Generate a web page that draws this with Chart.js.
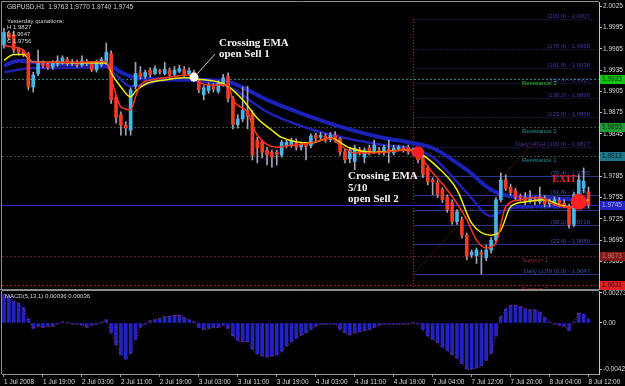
<!DOCTYPE html>
<html>
<head>
<meta charset="utf-8" />
<title>GBPUSD H1</title>
<script src="https://cdn.jsdelivr.net/npm/chart.js@4.4.0/dist/chart.umd.min.js"></script>
<style>
    body { margin: 0; background: #000; }
    #wrap { position: relative; width: 625px; height: 386px; background: #000; overflow: hidden; }
    #priceChart { position: absolute; left: 0; top: 0; }
    #macdChart { position: absolute; left: 0; top: 290px; }
</style>
</head>
<body>
<div id="wrap">
    <canvas id="priceChart" width="625" height="290"></canvas>
    <canvas id="macdChart" width="625" height="96"></canvas>
</div>
<script>
// H1 candles, bar 0 = 1 Jul 11:00, last bar = 8 Jul 12:00
const openP = [
    1.9970, 1.9987, 1.9985, 1.9965, 1.9961, 1.9958, 1.9911, 1.9930, 1.9944, 1.9943,
    1.9939, 1.9943, 1.9945, 1.9950, 1.9944, 1.9946, 1.9942, 1.9947, 1.9943, 1.9935,
    1.9943, 1.9946, 1.9958, 1.9896, 1.9872, 1.9857, 1.9850, 1.9912, 1.9931, 1.9926,
    1.9935, 1.9930, 1.9934, 1.9930, 1.9935, 1.9929, 1.9933, 1.9936, 1.9930, 1.9932,
    1.9920, 1.9900, 1.9906, 1.9913, 1.9905, 1.9915, 1.9926, 1.9895, 1.9858, 1.9866,
    1.9878, 1.9874, 1.9836, 1.9833, 1.9822, 1.9819, 1.9819, 1.9815, 1.9829, 1.9829,
    1.9833, 1.9826, 1.9830, 1.9828, 1.9843, 1.9840, 1.9842, 1.9837, 1.9843, 1.9838,
    1.9820, 1.9810, 1.9806, 1.9823, 1.9812, 1.9825, 1.9821, 1.9822, 1.9819, 1.9823,
    1.9818, 1.9824, 1.9825, 1.9826, 1.9821, 1.9822, 1.9811, 1.9797, 1.9780, 1.9776,
    1.9766, 1.9756, 1.9748, 1.9721, 1.9724, 1.9702, 1.9674, 1.9673, 1.9677, 1.9670,
    1.9681, 1.9695, 1.9752, 1.9780, 1.9770, 1.9765, 1.9757, 1.9755, 1.9750, 1.9752,
    1.9749, 1.9754, 1.9746, 1.9748, 1.9751, 1.9747, 1.9743, 1.9717, 1.9752, 1.9768,
    1.9763
];
const highP = [
    1.9994, 1.9990, 1.9990, 1.9967, 1.9963, 1.9960, 1.9932, 1.9963, 1.9948, 1.9946,
    1.9948, 1.9955, 1.9955, 1.9953, 1.9950, 1.9949, 1.9955, 1.9950, 1.9946, 1.9949,
    1.9953, 1.9973, 1.9962, 1.9899, 1.9876, 1.9862, 1.9910, 1.9946, 1.9940, 1.9935,
    1.9938, 1.9941, 1.9936, 1.9946, 1.9938, 1.9940, 1.9942, 1.9940, 1.9938, 1.9935,
    1.9922, 1.9913, 1.9917, 1.9916, 1.9920, 1.9929, 1.9931, 1.9898, 1.9872, 1.9911,
    1.9912, 1.9878, 1.9840, 1.9836, 1.9826, 1.9822, 1.9822, 1.9836, 1.9836, 1.9839,
    1.9838, 1.9833, 1.9833, 1.9845, 1.9846, 1.9847, 1.9845, 1.9847, 1.9848, 1.9840,
    1.9823, 1.9826, 1.9829, 1.9826, 1.9825, 1.9829, 1.9836, 1.9826, 1.9829, 1.9836,
    1.9829, 1.9829, 1.9828, 1.9829, 1.9825, 1.9825, 1.9814, 1.9800, 1.9783, 1.9779,
    1.9769, 1.9759, 1.9752, 1.9738, 1.9728, 1.9705, 1.9681, 1.9684, 1.9681, 1.9688,
    1.9699, 1.9755, 1.9790, 1.9787, 1.9774, 1.9768, 1.9760, 1.9762, 1.9765, 1.9756,
    1.9770, 1.9758, 1.9753, 1.9756, 1.9755, 1.9752, 1.9746, 1.9762, 1.9787, 1.9797,
    1.9770
];
const lowP = [
    1.9966, 1.9977, 1.9959, 1.9956, 1.9954, 1.9907, 1.9904, 1.9927, 1.9938, 1.9936,
    1.9936, 1.9940, 1.9943, 1.9941, 1.9941, 1.9939, 1.9940, 1.9941, 1.9933, 1.9932,
    1.9940, 1.9943, 1.9888, 1.9860, 1.9843, 1.9843, 1.9843, 1.9908, 1.9922, 1.9923,
    1.9925, 1.9928, 1.9929, 1.9928, 1.9925, 1.9927, 1.9931, 1.9926, 1.9928, 1.9919,
    1.9903, 1.9893, 1.9902, 1.9904, 1.9902, 1.9912, 1.9890, 1.9852, 1.9853, 1.9862,
    1.9852, 1.9808, 1.9804, 1.9811, 1.9801, 1.9798, 1.9801, 1.9812, 1.9825, 1.9826,
    1.9822, 1.9822, 1.9808, 1.9825, 1.9835, 1.9836, 1.9833, 1.9834, 1.9833, 1.9815,
    1.9804, 1.9804, 1.9794, 1.9815, 1.9804, 1.9815, 1.9818, 1.9816, 1.9815, 1.9804,
    1.9815, 1.9821, 1.9819, 1.9816, 1.9815, 1.9804, 1.9783, 1.9773, 1.9759, 1.9755,
    1.9748, 1.9734, 1.9717, 1.9717, 1.9698, 1.9667, 1.9670, 1.9662, 1.9647, 1.9666,
    1.9677, 1.9691, 1.9749, 1.9765, 1.9758, 1.9752, 1.9750, 1.9745, 1.9747, 1.9745,
    1.9746, 1.9742, 1.9742, 1.9744, 1.9742, 1.9741, 1.9712, 1.9714, 1.9749, 1.9762,
    1.9740
];
const closeP = [
    1.9988, 1.9980, 1.9963, 1.9960, 1.9957, 1.9911, 1.9928, 1.9945, 1.9941, 1.9938,
    1.9944, 1.9948, 1.9952, 1.9944, 1.9947, 1.9942, 1.9948, 1.9944, 1.9935, 1.9946,
    1.9950, 1.9960, 1.9893, 1.9868, 1.9857, 1.9853, 1.9907, 1.9930, 1.9926, 1.9932,
    1.9929, 1.9937, 1.9932, 1.9936, 1.9928, 1.9935, 1.9937, 1.9929, 1.9934, 1.9922,
    1.9907, 1.9910, 1.9914, 1.9908, 1.9917, 1.9924, 1.9895, 1.9858, 1.9866, 1.9878,
    1.9870, 1.9815, 1.9825, 1.9819, 1.9815, 1.9812, 1.9816, 1.9833, 1.9833, 1.9836,
    1.9826, 1.9830, 1.9827, 1.9842, 1.9839, 1.9843, 1.9836, 1.9843, 1.9836, 1.9819,
    1.9808, 1.9822, 1.9825, 1.9819, 1.9822, 1.9818, 1.9829, 1.9819, 1.9826, 1.9821,
    1.9825, 1.9826, 1.9822, 1.9819, 1.9818, 1.9808, 1.9787, 1.9777, 1.9777, 1.9759,
    1.9752, 1.9738, 1.9721, 1.9735, 1.9702, 1.9672, 1.9678, 1.9681, 1.9675, 1.9681,
    1.9695, 1.9752, 1.9780, 1.9768, 1.9762, 1.9756, 1.9755, 1.9749, 1.9754, 1.9749,
    1.9755, 1.9746, 1.9749, 1.9752, 1.9747, 1.9744, 1.9717, 1.9759, 1.9780, 1.9778,
    1.9745
];

// moving averages as [bar, price]
const emaRed = [
    [0, 1.9970], [2, 1.9967], [4, 1.9963], [5, 1.9952], [6, 1.9946], [8, 1.9946], [13, 1.9946],
    [21, 1.9947], [22, 1.9924], [23, 1.9900], [24, 1.9883], [26, 1.9879], [27, 1.9897], [28, 1.9914],
    [31, 1.9922], [35, 1.9926], [38, 1.9928], [40, 1.9918], [42, 1.9914], [46, 1.9914], [47, 1.9893],
    [49, 1.9881], [50, 1.9876], [51, 1.9857], [52, 1.9843], [56, 1.9826], [59, 1.9829], [63, 1.9832],
    [67, 1.9839], [69, 1.9829], [72, 1.9818], [76, 1.9818], [83, 1.9822], [85, 1.9816], [88, 1.9790],
    [91, 1.9766], [95, 1.9724], [97, 1.9695], [99, 1.9684], [101, 1.9691], [103, 1.9742], [106, 1.9752],
    [110, 1.9755], [113, 1.9745], [117, 1.9741], [120, 1.9749]
];
const emaYellow = [
    [0, 1.9949], [2, 1.9957], [4, 1.9957], [6, 1.9946], [21, 1.9945], [22, 1.9931], [24, 1.9911],
    [26, 1.9897], [27, 1.9905], [29, 1.9915], [33, 1.9921], [37, 1.9924], [40, 1.9922], [44, 1.9918],
    [46, 1.9912], [49, 1.9893], [52, 1.9867], [55, 1.9850], [57, 1.9840], [63, 1.9832], [67, 1.9839],
    [71, 1.9825], [76, 1.9819], [83, 1.9822], [85, 1.9819], [89, 1.9798], [93, 1.9766], [96, 1.9719],
    [100, 1.9702], [102, 1.9709], [104, 1.9742], [107, 1.9749], [111, 1.9752], [114, 1.9745],
    [117, 1.9741], [120, 1.9752]
];
const emaBlueSlow = [
    [0, 1.9941], [3, 1.9948], [6, 1.9946], [11, 1.9943], [21, 1.9943], [24, 1.9932], [27, 1.9924],
    [32, 1.9922], [40, 1.9921], [46, 1.9918], [54, 1.9893], [61, 1.9874], [70, 1.9853], [78, 1.9839],
    [83, 1.9833], [88, 1.9825], [95, 1.9794], [100, 1.9766], [104, 1.9757], [110, 1.9755],
    [115, 1.9753], [120, 1.9752]
];
const emaBlueFast = [
    [0, 1.9932], [6, 1.9938], [11, 1.9938], [21, 1.9939], [23, 1.9928], [26, 1.9912], [29, 1.9915],
    [33, 1.9921], [40, 1.9919], [46, 1.9912], [54, 1.9876], [61, 1.9856], [70, 1.9839], [78, 1.9829],
    [83, 1.9825], [88, 1.9812], [95, 1.9762], [100, 1.9729], [103, 1.9738], [107, 1.9742],
    [114, 1.9742], [120, 1.9746]
];

// MACD(5,13,1) histogram, one value per bar
const macdVals = [
    0.0026, 0.0024, 0.0020, 0.0018, 0.0014, 0.0004, -0.0005, -0.0003, -0.0004, -0.0003,
    -0.0003, -0.0001, 0.0001, 0.00002, -0.0001, -0.0001, -0.0002, -0.0004, -0.0002, -0.0001,
    0.00002, 0.0003, -0.0009, -0.0020, -0.0029, -0.0033, -0.0028, -0.0015, -0.0004, -0.0001,
    0.0002, 0.0003, 0.0004, 0.0006, 0.0006, 0.0007, 0.0007, 0.0005, 0.0003, 0.0001,
    -0.0004, -0.0006, -0.0005, -0.0004, -0.0004, -0.0002, -0.0005, -0.0012, -0.0016, -0.0017,
    -0.0017, -0.0024, -0.0028, -0.0030, -0.0031, -0.0030, -0.0029, -0.0026, -0.0021, -0.0017,
    -0.0014, -0.0011, -0.0009, -0.0006, -0.0003, -0.0001, -0.0001, -0.0001, -0.0001, -0.0006,
    -0.0009, -0.0011, -0.0009, -0.0008, -0.0007, -0.0006, -0.0004, -0.0002, -0.0001, -0.0001,
    -0.0001, -0.0001, -0.0001, -0.0001, 0.00002, -0.0001, -0.0006, -0.0012, -0.0015, -0.0018,
    -0.0022, -0.0025, -0.0029, -0.0032, -0.0037, -0.0042, -0.0042, -0.0041, -0.0039, -0.0034,
    -0.0028, -0.0012, 0.0006, 0.0013, 0.0016, 0.0016, 0.0015, 0.0013, 0.0012, 0.0012,
    0.0010, 0.0005, 0.0001, -0.0001, -0.0002, -0.0003, -0.0007, 0.0001, 0.0009, 0.0008,
    0.00036
];

const timeLabels = ['1 Jul 2008', '1 Jul 19:00', '2 Jul 03:00', '2 Jul 11:00', '2 Jul 19:00',
    '3 Jul 03:00', '3 Jul 11:00', '3 Jul 19:00', '4 Jul 03:00', '4 Jul 11:00', '4 Jul 19:00',
    '7 Jul 04:00', '7 Jul 12:00', '7 Jul 20:00', '8 Jul 04:00', '8 Jul 12:00'];
// 1.9815 and 1.9635 sit under the level boxes, so they are left out
const priceTicks = [2.0025, 1.9995, 1.9965, 1.9935, 1.9905, 1.9875, 1.9845,
    1.9785, 1.9755, 1.9725, 1.9695, 1.9665];
const macdTicks = [0.00273, 0, -0.00424];

// daily pivot levels and the current bid
const levelNames = ['Resistance 3', 'Resistance 2', 'Resistance 1', 'Support 1', 'Support 2'];
const levelValues = [1.9923, 1.9855, 1.9813, 1.9673, 1.9631];
const bidPrice = 1.9745;

// fibonacci on yesterday's range
const fibLabels = ['Daily LOW (0.0) - 1.9647', '(23.6) - 1.9689', '(38.2) - 1.9716',
    'Daily Pivot (50.0) - 1.9737', '(61.8) - 1.9758', '(76.4) - 1.9785',
    'Daily HIGH (100.0) - 1.9827', '(123.6) - 1.9869', '(138.2) - 1.9896', '(150.0) - 1.9917',
    '(161.8) - 1.9938', '(176.4) - 1.9965', '(200.0) - 2.0007'];
const fibValues = [1.9647, 1.9689, 1.9716, 1.9737, 1.9758, 1.9785, 1.9827, 1.9869, 1.9896,
    1.9917, 1.9938, 1.9965, 2.0007];
const fibStartBar = 84;
const fibEndBar = 108;

// trade marks
const signalBars = [39, 85, 118];
const signalPrices = [1.9925, 1.9819, 1.9749];

const xMin = -0.41, xMax = 122.15;

Chart.defaults.font.family = '"Liberation Sans", Arial, sans-serif';
Chart.defaults.font.size = 6.5;
Chart.defaults.color = '#d8d8d8';

const axisColor = '#c0c0d4';
const frameColor = '#8c8c8c';

function linePoints(arr) {
    return arr.map(p => ({ x: p[0], y: p[1] }));
}

const bars = openP.map((o, i) => i);

const priceLayers = {
    id: 'priceLayers',
    beforeDatasetsDraw(chart) {
        const { ctx, chartArea: a, scales: { x, y } } = chart;
        ctx.save();
        ctx.beginPath();
        ctx.rect(a.left, a.top, a.right - a.left, a.bottom - a.top);
        ctx.clip();
        ctx.lineWidth = 1;
        ctx.font = '6px "Liberation Sans"';
        ctx.textBaseline = 'alphabetic';

        // fibonacci levels
        const fx = Math.round(x.getPixelForValue(fibStartBar)) + 0.5;
        fibValues.forEach((v, k) => {
            const py = Math.round(y.getPixelForValue(v)) + 0.5;
            const upper = v >= fibValues[6];
            ctx.strokeStyle = upper ? '#44288e' : '#2a3880';
            ctx.setLineDash(upper ? [1, 2] : []);
            ctx.beginPath();
            ctx.moveTo(fx, py);
            ctx.lineTo(a.right, py);
            ctx.stroke();
            ctx.fillStyle = upper ? '#5234a4' : '#3e4ea0';
            ctx.textAlign = 'right';
            ctx.fillText(fibLabels[k], a.right - 9, py - 2);
        });

        // fib anchors: vertical and diagonal
        ctx.strokeStyle = '#b02828';
        ctx.setLineDash([1, 2]);
        ctx.beginPath();
        ctx.moveTo(fx, y.getPixelForValue(fibValues[12]));
        ctx.lineTo(fx, a.bottom);
        ctx.stroke();
        ctx.beginPath();
        ctx.moveTo(fx, y.getPixelForValue(fibValues[0]));
        ctx.lineTo(x.getPixelForValue(fibEndBar), y.getPixelForValue(fibValues[6]));
        ctx.stroke();

        // pivot levels
        const lvlLine = ['#178a8a', '#3c4c3c', '#3c4c3c', '#5e1e2e', '#a81c1c'];
        const lvlText = ['#22c822', '#2a9494', '#2a8ca0', '#8c2c3c', '#c02020'];
        levelValues.forEach((v, k) => {
            const py = Math.round(y.getPixelForValue(v)) + 0.5;
            ctx.strokeStyle = lvlLine[k];
            ctx.setLineDash([2, 2]);
            ctx.beginPath();
            ctx.moveTo(a.left, py);
            ctx.lineTo(a.right, py);
            ctx.stroke();
            ctx.fillStyle = lvlText[k];
            ctx.textAlign = 'left';
            ctx.textBaseline = 'top';
            ctx.fillText(levelNames[k], a.right - 77, py + 1);
            ctx.textBaseline = 'alphabetic';
        });

        // bid line
        const by = Math.round(y.getPixelForValue(bidPrice)) + 0.5;
        ctx.setLineDash([]);
        ctx.strokeStyle = '#2c2cd0';
        ctx.beginPath();
        ctx.moveTo(a.left, by);
        ctx.lineTo(a.right, by);
        ctx.stroke();
        ctx.restore();
    },
    afterDatasetsDraw(chart) {
        const { ctx, scales: { x, y } } = chart;
        const pts = signalBars.map((b, k) => ({ x: x.getPixelForValue(b), y: y.getPixelForValue(signalPrices[k]) }));
        ctx.save();
        ctx.font = 'bold 11px "Liberation Serif"';
        ctx.textBaseline = 'middle';
        ctx.textAlign = 'left';

        // sell 1
        const p = pts[0];
        ctx.strokeStyle = '#c8c8c8';
        ctx.lineWidth = 1;
        ctx.beginPath();
        ctx.moveTo(p.x + 3, p.y - 3);
        ctx.lineTo(p.x + 21, p.y - 23);
        ctx.stroke();
        ctx.fillStyle = '#ffffff';
        ctx.beginPath();
        ctx.arc(p.x, p.y, 4.5, 0, Math.PI * 2);
        ctx.fill();
        ctx.fillStyle = '#f4f4f4';
        ctx.fillText('Crossing EMA', p.x + 25, p.y - 34);
        ctx.fillText('open Sell 1', p.x + 25, p.y - 23);

        // sell 2
        const q = pts[1];
        ctx.fillStyle = '#ff2020';
        ctx.beginPath();
        ctx.arc(q.x, q.y, 6, 0, Math.PI * 2);
        ctx.fill();
        ctx.fillStyle = '#f4f4f4';
        ctx.fillText('Crossing EMA', q.x - 70, q.y + 24);
        ctx.fillText('5/10', q.x - 70, q.y + 35.5);
        ctx.fillText('open Sell 2', q.x - 70, q.y + 47);

        // exit
        const e = pts[2];
        ctx.fillStyle = '#ff2020';
        ctx.beginPath();
        ctx.arc(e.x, e.y, 8, 0, Math.PI * 2);
        ctx.fill();
        ctx.font = 'bold 10px "Liberation Serif"';
        ctx.textAlign = 'right';
        ctx.fillText('EXIT', e.x - 2, e.y - 22);
        ctx.restore();
    },
    afterDraw(chart) {
        const { ctx, chartArea: a, scales: { y } } = chart;
        ctx.save();
        // frame
        ctx.strokeStyle = frameColor;
        ctx.lineWidth = 1;
        ctx.beginPath();
        ctx.moveTo(a.left - 0.5, a.bottom + 0.5);
        ctx.lineTo(a.left - 0.5, a.top - 0.5);
        ctx.lineTo(a.right, a.top - 0.5);
        ctx.moveTo(0, a.bottom + 0.5);
        ctx.lineTo(a.right + 26, a.bottom + 0.5);
        ctx.stroke();

        // price boxes on the axis
        const boxVals = [levelValues[0], levelValues[1], levelValues[2], bidPrice, levelValues[3], levelValues[4]];
        const boxFill = ['#12c412', '#1f9a34', '#1c7888', '#2222c4', '#7e1a1a', '#e02020'];
        const boxText = ['#0a2a0a', '#0a2a0a', '#0a2030', '#b8b8ff', '#d07070', '#300a0a'];
        ctx.font = '6.5px "Liberation Sans"';
        ctx.textBaseline = 'middle';
        ctx.textAlign = 'left';
        boxVals.forEach((v, k) => {
            const py = Math.min(Math.round(y.getPixelForValue(v)), a.bottom - 4);
            ctx.fillStyle = boxFill[k];
            ctx.fillRect(a.right + 1, py - 4, 25, 9);
            ctx.fillStyle = boxText[k];
            ctx.fillText(v.toFixed(4), a.right + 3, py + 0.5);
        });

        // header texts
        ctx.fillStyle = '#d4d4d4';
        ctx.font = '6.5px "Liberation Sans"';
        ctx.fillText('GBPUSD,H1  1.9763 1.9770 1.9740 1.9745', 7, 7);
        ctx.font = '6px "Liberation Sans"';
        ctx.fillText('Yesterday quotations:', 7, 21);
        ctx.fillText('H 1.9827', 7, 27.5);
        ctx.fillText('L 1.9647', 7, 34.5);
        ctx.fillText('C 1.9756', 7, 41.5);
        ctx.restore();
    }
};

new Chart(document.getElementById('priceChart'), {
    type: 'bar',
    data: {
        datasets: [
            {
                type: 'line', label: 'EMA slow', data: linePoints(emaBlueSlow),
                borderColor: '#1a22b8', borderWidth: 4, pointRadius: 0,
                cubicInterpolationMode: 'monotone', order: 9
            },
            {
                type: 'line', label: 'EMA mid', data: linePoints(emaBlueFast),
                borderColor: '#2020b0', borderWidth: 2.5, pointRadius: 0,
                cubicInterpolationMode: 'monotone', order: 8
            },
            {
                label: 'wick', data: bars.map(i => ({ x: i, y: [lowP[i], highP[i]] })),
                backgroundColor: '#a4a4b8', barThickness: 1, grouped: false, order: 7
            },
            {
                label: 'body', data: bars.map(i => ({ x: i, y: [openP[i], closeP[i]] })),
                backgroundColor: bars.map(i => closeP[i] >= openP[i] ? '#46b6ea' : '#f23a26'),
                barThickness: 3, grouped: false, minBarLength: 1, order: 6
            },
            {
                type: 'line', label: 'EMA 10', data: linePoints(emaYellow),
                borderColor: '#f2f200', borderWidth: 1.5, pointRadius: 0,
                cubicInterpolationMode: 'monotone', order: 2
            },
            {
                type: 'line', label: 'EMA 5', data: linePoints(emaRed),
                borderColor: '#ff3418', borderWidth: 1.5, pointRadius: 0,
                cubicInterpolationMode: 'monotone', order: 1
            }
        ]
    },
    options: {
        responsive: false,
        animation: false,
        events: [],
        layout: { padding: { left: 2, top: 2, right: 0, bottom: 1 } },
        plugins: { legend: { display: false }, tooltip: { enabled: false } },
        scales: {
            x: { type: 'linear', min: xMin, max: xMax, offset: false, display: false },
            y: {
                position: 'right', min: 1.9626, max: 2.0031,
                afterBuildTicks: s => { s.ticks = priceTicks.map(v => ({ value: v })); },
                afterFit: s => { s.width = 26; s.paddingTop = 0; s.paddingBottom = 0; },
                ticks: { autoSkip: false, padding: 1, color: '#dcdcdc', callback: v => v.toFixed(4) },
                grid: { drawOnChartArea: false, drawTicks: true, tickLength: 3, color: axisColor },
                border: { color: axisColor }
            }
        }
    },
    plugins: [priceLayers]
});

const macdLayers = {
    id: 'macdLayers',
    afterDraw(chart) {
        const { ctx, chartArea: a } = chart;
        ctx.save();
        ctx.strokeStyle = frameColor;
        ctx.lineWidth = 1;
        ctx.beginPath();
        ctx.moveTo(a.left - 0.5, a.bottom);
        ctx.lineTo(a.left - 0.5, 0.5);
        ctx.lineTo(a.right, 0.5);
        ctx.stroke();
        ctx.fillStyle = '#d4d4d4';
        ctx.font = '6px "Liberation Sans"';
        ctx.textBaseline = 'middle';
        ctx.fillText('MACD(5,13,1) 0.00036 0.00036', 5, 6);
        ctx.restore();
    }
};

new Chart(document.getElementById('macdChart'), {
    type: 'bar',
    data: {
        datasets: [
            {
                type: 'line', label: 'Signal', data: macdVals.map((v, i) => ({ x: i, y: v })),
                borderColor: '#c82a2a', borderWidth: 1, borderDash: [1, 2], pointRadius: 0, order: 0
            },
            {
                label: 'MACD', data: macdVals.map((v, i) => ({ x: i, y: v })),
                backgroundColor: '#2222c0', barThickness: 3, grouped: false, order: 1
            }
        ]
    },
    options: {
        responsive: false,
        animation: false,
        events: [],
        layout: { padding: { left: 2, top: 1, right: 0, bottom: 0 } },
        plugins: { legend: { display: false }, tooltip: { enabled: false } },
        scales: {
            x: {
                type: 'linear', min: xMin, max: xMax, offset: false, position: 'bottom',
                afterBuildTicks: s => { s.ticks = timeLabels.map((t, k) => ({ value: k * 8 })); },
                afterFit: s => { s.height = 12; s.paddingLeft = 0; s.paddingRight = 0; },
                ticks: {
                    autoSkip: false, maxRotation: 0, minRotation: 0, align: 'start', padding: 1,
                    color: '#d8d8d8', callback: (v, k) => timeLabels[k]
                },
                grid: { drawOnChartArea: false, drawTicks: true, tickLength: 3, color: '#9a9a9a', offset: false },
                border: { color: '#9a9a9a' }
            },
            y: {
                position: 'right', min: -0.00464, max: 0.00291,
                afterBuildTicks: s => { s.ticks = macdTicks.map(v => ({ value: v })); },
                afterFit: s => { s.width = 26; s.paddingTop = 0; s.paddingBottom = 0; },
                ticks: { autoSkip: false, padding: 1, color: '#dcdcdc', callback: v => v === 0 ? '0.00' : v.toFixed(5) },
                grid: { drawOnChartArea: false, drawTicks: true, tickLength: 3, color: axisColor },
                border: { color: axisColor }
            }
        }
    },
    plugins: [macdLayers]
});
</script>
</body>
</html>
